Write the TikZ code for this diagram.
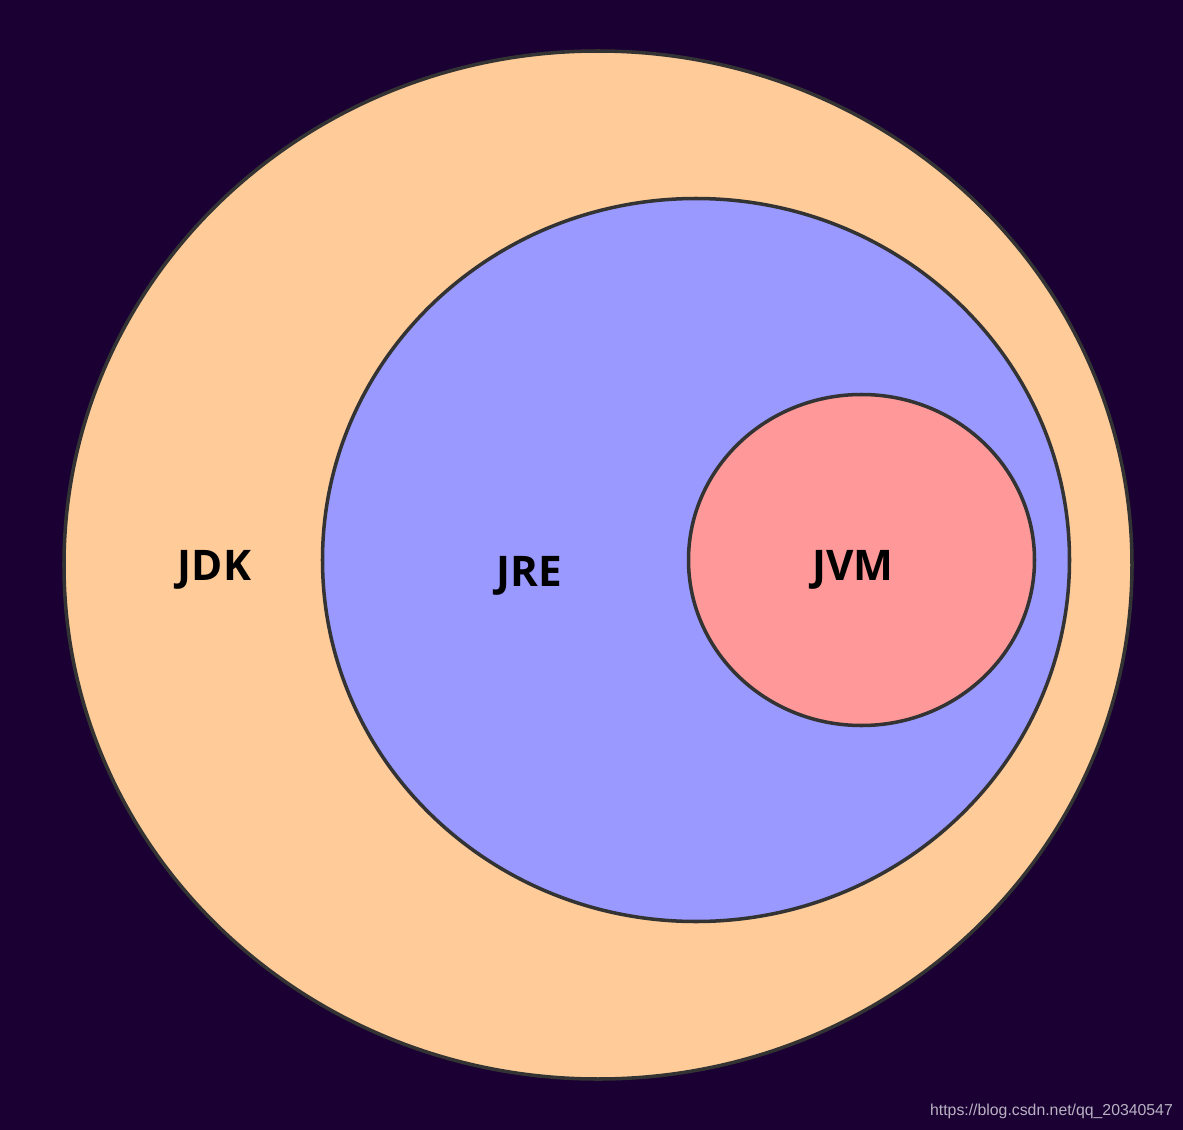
\documentclass[tikz,border=0pt]{standalone}
\usepackage{fontspec}
\setmainfont{Open Sans}
\newfontfamily\wmfont{Liberation Sans}
\usepackage{xcolor}
\definecolor{night}{RGB}{26,0,51}
\definecolor{peach}{RGB}{255,204,153}
\definecolor{lilac}{RGB}{153,153,255}
\definecolor{rose}{RGB}{255,153,153}
\definecolor{rim}{RGB}{51,51,51}
\definecolor{mark}{RGB}{185,178,195}
\usetikzlibrary{shapes.geometric}

\begin{document}
\begin{tikzpicture}[
  ring/.style={ellipse,draw=rim,line width=2pt,inner sep=0pt},
  tag/.style={font=\fontsize{24}{28}\selectfont\bfseries,text=black},
]
  \fill[night] (0,0) rectangle (23.66,-22.6);
  \useasboundingbox (0,0) rectangle (23.66,-22.6);

  \node[ring,fill=peach,minimum width=21.36cm,minimum height=20.56cm](jdk) at (11.96,-11.3) {};
  \node[ring,fill=lilac,minimum width=14.94cm,minimum height=14.46cm](jre) at (13.92,-11.2) {};
  \node[ring,fill=rose,minimum width=6.92cm,minimum height=6.62cm](jvm) at (17.23,-11.2) {};

  \node[tag](jdklabel) at (4.29,-11.4) {JDK};
  \node[tag](jrelabel) at (10.58,-11.52) {JRE};
  \node[tag](jvmlabel) at (17.06,-11.4) {JVM};

  \node[font=\wmfont\fontsize{9}{11}\selectfont,text=mark](source) at (21.03,-22.22)
    {https://blog.csdn.net/qq\_20340547};
\end{tikzpicture}
\end{document}
